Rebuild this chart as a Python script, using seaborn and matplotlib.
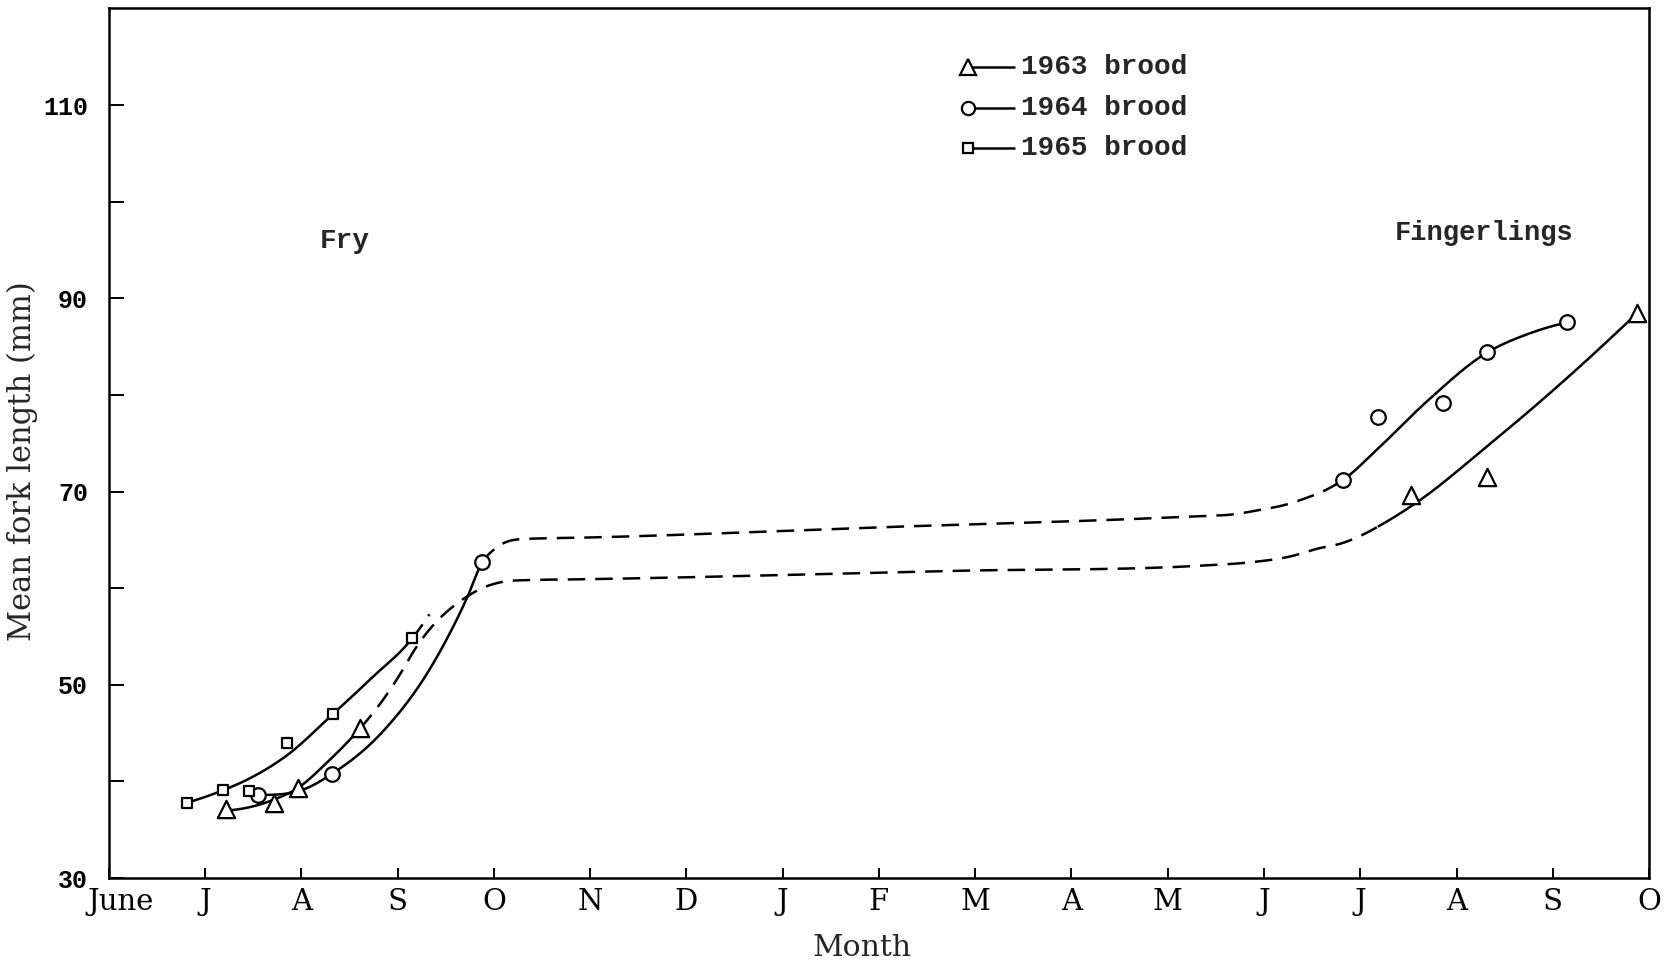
import numpy as np
import matplotlib
matplotlib.use("Agg")
import matplotlib.pyplot as plt
from matplotlib.lines import Line2D
from matplotlib.transforms import ScaledTranslation
import seaborn as sns

# Month axis: 0 = June of the hatching year, 16 = October of the following year
month_labels = ["June", "J", "A", "S", "O", "N", "D", "J", "F", "M",
                "A", "M", "J", "J", "A", "S", "O"]
y_major = [30, 50, 70, 90, 110]
y_minor = [40, 60, 80, 100]

# Observed mean fork lengths (mm) by brood
brood1963_month = [1.22, 1.71, 1.96, 2.61, 13.53, 14.32, 15.88]
brood1963_length = [37.1, 37.8, 39.3, 45.5, 69.6, 71.5, 88.5]
brood1964_month = [1.55, 2.32, 3.88, 12.82, 13.18, 13.86, 14.32, 15.15]
brood1964_length = [38.6, 40.8, 62.7, 71.2, 77.7, 79.2, 84.4, 87.5]
brood1965_month = [0.81, 1.19, 1.45, 1.85, 2.33, 3.15]
brood1965_length = [37.8, 39.1, 39.0, 44.0, 47.0, 54.8]

# Hand-fitted growth curves (nodes) and the stretches drawn dashed (inferred)
curve1963_x = [1.24, 1.71, 1.96, 2.27, 2.61, 2.80, 3.00, 3.20, 3.38, 3.55,
               3.73, 3.90, 4.04, 4.40, 4.77, 8.82, 11.38, 11.83, 12.28,
               12.56, 12.81, 13.04, 13.19, 13.59, 14.32, 15.12, 15.88]
curve1963_y = [37.0, 38.1, 39.3, 42.0, 45.5, 47.8, 50.7, 54.0, 56.3, 57.9,
               59.2, 60.1, 60.55, 60.85, 60.9, 61.8, 62.35, 62.65, 63.3,
               64.1, 64.65, 65.6, 66.4, 68.9, 74.7, 81.5, 88.5]
curve1963_dashed = [(2.61, 13.19)]

curve1964_x = [1.55, 2.03, 2.32, 2.83, 3.35, 3.72, 3.88, 4.00, 4.21, 4.50,
               4.77, 8.00, 11.30, 11.69, 11.93, 12.21, 12.43, 12.66, 12.82,
               13.20, 13.70, 14.32, 14.74, 15.15]
curve1964_y = [38.6, 39.2, 40.8, 45.0, 51.9, 59.0, 62.7, 64.0, 65.0, 65.15,
               65.2, 66.3, 67.45, 67.65, 68.05, 68.6, 69.3, 70.25, 71.2,
               74.6, 79.4, 84.4, 86.3, 87.5]
curve1964_dashed = [(3.88, 12.82)]

curve1965_x = [0.81, 1.19, 1.44, 1.85, 2.33, 2.74, 3.15, 3.33]
curve1965_y = [37.8, 39.1, 40.2, 42.7, 47.0, 50.8, 54.8, 57.3]
curve1965_dashed = [(3.15, 3.33)]

legend_labels = ["1963 brood", "1964 brood", "1965 brood"]

SERIF = "DejaVu Serif"
MONO = "Liberation Mono"
LW = 1.8
DASH = (7, 4)


def smooth_curve(xs, ys):
    """Return an evaluator for a C1 cubic through the nodes (limited tangents)."""
    x = np.asarray(xs, float)
    y = np.asarray(ys, float)
    h = np.diff(x)
    d = np.diff(y) / h
    m = np.zeros_like(x)
    for k in range(1, len(x) - 1):
        if d[k - 1] * d[k] <= 0:
            continue
        mk = (h[k] * d[k - 1] + h[k - 1] * d[k]) / (h[k - 1] + h[k])
        lim = 3 * min(abs(d[k - 1]), abs(d[k]))
        m[k] = np.sign(mk) * min(abs(mk), lim)
    if len(x) > 2:
        m[0] = ((2 * h[0] + h[1]) * d[0] - h[0] * d[1]) / (h[0] + h[1])
        if m[0] * d[0] <= 0:
            m[0] = 0.0
        m[-1] = ((2 * h[-1] + h[-2]) * d[-1] - h[-1] * d[-2]) / (h[-1] + h[-2])
        if m[-1] * d[-1] <= 0:
            m[-1] = 0.0
    else:
        m[:] = d[0]

    def f(t):
        t = np.asarray(t, float)
        i = np.clip(np.searchsorted(x, t) - 1, 0, len(x) - 2)
        s = (t - x[i]) / h[i]
        h00 = 2 * s**3 - 3 * s**2 + 1
        h10 = s**3 - 2 * s**2 + s
        h01 = -2 * s**3 + 3 * s**2
        h11 = s**3 - s**2
        return (h00 * y[i] + h10 * h[i] * m[i] + h01 * y[i + 1]
                + h11 * h[i] * m[i + 1])
    return f


sns.set_style("ticks")
plt.rcParams["font.family"] = [SERIF, "DejaVu Sans"]

fig = plt.figure(figsize=(16.66, 9.64), dpi=100)
ax = fig.add_axes([0.0654, 0.0892, 0.9244, 0.902])

for cx, cy, dashed in [(curve1963_x, curve1963_y, curve1963_dashed),
                       (curve1964_x, curve1964_y, curve1964_dashed),
                       (curve1965_x, curve1965_y, curve1965_dashed)]:
    f = smooth_curve(cx, cy)
    cuts = sorted({cx[0], cx[-1], *[v for pair in dashed for v in pair]})
    for a, b in zip(cuts[:-1], cuts[1:]):
        is_dashed = any(lo <= a and b <= hi for lo, hi in dashed)
        t = np.linspace(a, b, 400)
        sns.lineplot(x=t, y=f(t), ax=ax, color="black", linewidth=LW,
                     sort=False, estimator=None, legend=False)
        line = ax.lines[-1]
        if is_dashed:
            line.set_dashes(DASH)
        line.set_solid_capstyle("round")

points = [
    (brood1963_month, brood1963_length, "^", 155),
    (brood1964_month, brood1964_length, "o", 110),
    (brood1965_month, brood1965_length, "s", 62),
]
for px, py, mk, size in points:
    sns.scatterplot(x=px, y=py, ax=ax, marker=mk, s=size, color="white",
                    edgecolor="black", linewidth=1.6, zorder=5, clip_on=False,
                    legend=False)

ax.set_xlim(0, 16)
ax.set_ylim(30, 120)

ax.set_xticks(range(len(month_labels)))
ax.set_xticklabels(month_labels, fontsize=21, family=SERIF)
ax.set_yticks(y_major)
ax.set_yticklabels([str(v) for v in y_major], fontsize=18, family=MONO,
                   fontweight="bold")
ax.set_yticks(y_minor, minor=True)
ax.tick_params(axis="x", direction="in", length=7, width=1.4, pad=7,
               colors="black")
ax.tick_params(axis="y", which="both", direction="in", length=11, width=1.4,
               pad=15, colors="black")
ax.tick_params(top=False, right=False, which="both")

june = ax.get_xticklabels()[0]
june.set_transform(june.get_transform() +
                   ScaledTranslation(0.12, 0, fig.dpi_scale_trans))

for sp in ax.spines.values():
    sp.set_visible(True)
    sp.set_linewidth(LW)
    sp.set_color("black")

ax.set_xlabel("Month", fontsize=21.5, family=SERIF)
ax.xaxis.set_label_coords(0.489, -0.064)
ax.set_ylabel("Mean fork length (mm)", fontsize=22, family=SERIF)
ax.yaxis.set_label_coords(-0.046, 0.48)

ax.text(0.1532, 0.733, "Fry", transform=ax.transAxes, fontsize=20,
        family=MONO, fontweight="bold", ha="center", va="center")
ax.text(0.8929, 0.742, "Fingerlings", transform=ax.transAxes, fontsize=19.5,
        family=MONO, fontweight="bold", ha="center", va="center")

# Key: marker with a short lead line, then the brood label
key_markers = ["^", "o", "s"]
key_sizes = [12, 9.5, 7.5]
key_rows = [0.933, 0.885, 0.840]
for mk, ms, yk, lab in zip(key_markers, key_sizes, key_rows, legend_labels):
    ax.add_line(Line2D([0.558, 0.5875], [yk, yk], transform=ax.transAxes,
                       color="black", linewidth=LW, marker=mk, markersize=ms,
                       markevery=[0], markerfacecolor="white",
                       markeredgecolor="black", markeredgewidth=1.6,
                       clip_on=False, zorder=6))
    ax.text(0.5925, yk, lab, transform=ax.transAxes, fontsize=20,
            family=MONO, fontweight="bold", ha="left", va="center")

fig.savefig("out.png", dpi=100, facecolor="white")
